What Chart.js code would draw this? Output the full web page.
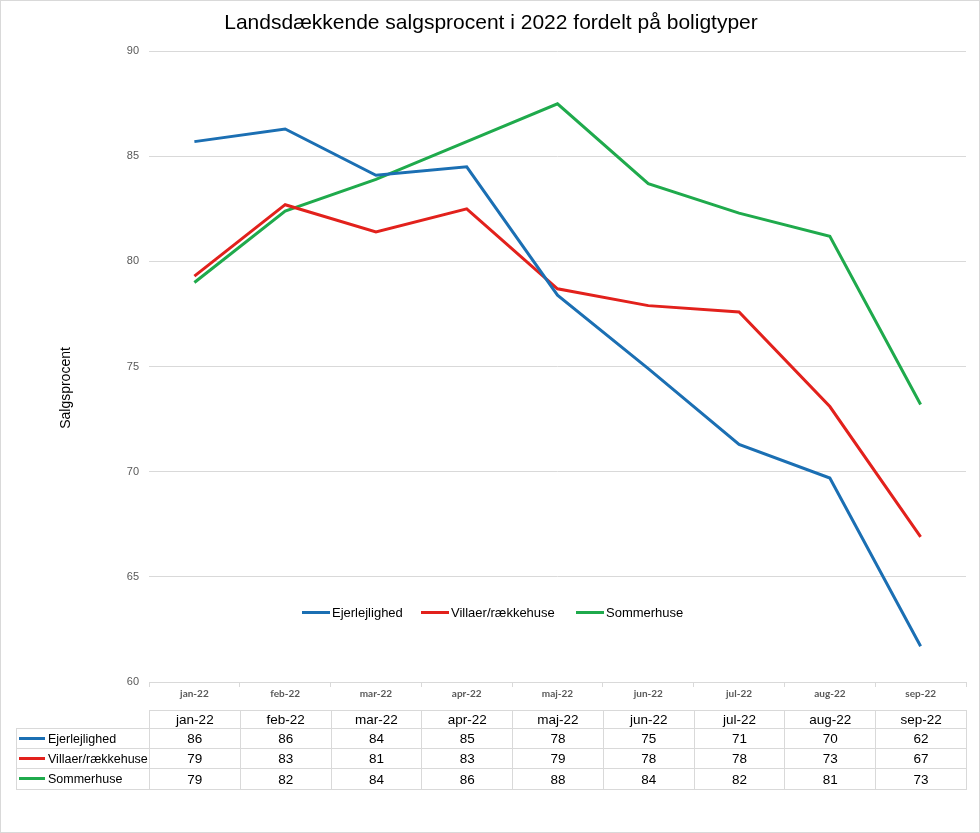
<!DOCTYPE html>
<html>
<head>
<meta charset="utf-8">
<script src="https://cdn.jsdelivr.net/npm/chart.js@4.4.1/dist/chart.umd.min.js"></script>
<style>
  html, body { margin: 0; padding: 0; background: #fff; }
  #frame { position: relative; width: 980px; height: 833px; box-sizing: border-box; border: 1px solid #d9d9d9; overflow: hidden; }
  #chartBox { position: absolute; left: 0; top: 0; width: 980px; height: 710px; }
  #legend { position: absolute; left: 0; top: 602px; width: 980px; height: 20px; font-family: "Liberation Sans", Arial, sans-serif; font-size: 13px; color: #000; }
  .lg { position: absolute; top: 0; height: 20px; line-height: 20px; white-space: nowrap; }
  .lg i { display: inline-block; width: 28px; height: 3px; vertical-align: middle; margin-right: 2px; position: relative; top: -1px; }
  #dtable { position: absolute; left: 15px; top: 709px; width: 951px; border-collapse: collapse; font-family: "Liberation Sans", Arial, sans-serif; font-size: 13.5px; font-weight: normal; color: #000; table-layout: fixed; }
  #dtable td { border: 1px solid #d9d9d9; padding: 0; text-align: center; overflow: hidden; white-space: nowrap; }
  #dtable td.lab { text-align: left; padding-left: 2px; font-size: 12.5px; }
  #dtable td.lab i { display: inline-block; width: 26px; height: 3px; vertical-align: middle; margin-right: 3px; position: relative; top: -1px; }
  #dtable td.blank { border-top: none; border-left: none; }
</style>
</head>
<body>
<div id="frame">
  <div id="chartBox"><canvas id="c"></canvas></div>
  <div id="legend"></div>
  <table id="dtable"></table>
</div>
<script>
// ---- data ----
const months = ['jan-22','feb-22','mar-22','apr-22','maj-22','jun-22','jul-22','aug-22','sep-22'];
const seriesNames = ['Ejerlejlighed','Villaer/rækkehuse','Sommerhuse'];
const ejerlejlighed = [85.7, 86.3, 84.1, 84.5, 78.4, 74.9, 71.3, 69.7, 61.7];
const villaer = [79.3, 82.7, 81.4, 82.5, 78.7, 77.9, 77.6, 73.1, 66.9];
const sommerhuse = [79.0, 82.4, 83.9, 85.7, 87.5, 83.7, 82.3, 81.2, 73.2];
// values shown in the data table
const tableEjerlejlighed = [86, 86, 84, 85, 78, 75, 71, 70, 62];
const tableVillaer = [79, 83, 81, 83, 79, 78, 78, 73, 67];
const tableSommerhuse = [79, 82, 84, 86, 88, 84, 82, 81, 73];
const yTicks = [60, 65, 70, 75, 80, 85, 90];

const colors = ['#1b6fb3', '#e2211c', '#1faa4c'];
const lineData = [ejerlejlighed, villaer, sommerhuse];
const tableData = [tableEjerlejlighed, tableVillaer, tableSommerhuse];

const font = '"Liberation Sans", Arial, sans-serif';

const chart = new Chart(document.getElementById('c'), {
  type: 'line',
  data: {
    labels: months,
    datasets: seriesNames.map((n, i) => ({
      label: n,
      data: lineData[i],
      borderColor: colors[i],
      backgroundColor: colors[i],
      borderWidth: 3,
      pointRadius: 0,
      pointHoverRadius: 0,
      tension: 0,
      fill: false
    }))
  },
  options: {
    responsive: true,
    maintainAspectRatio: false,
    animation: false,
    layout: { padding: { left: 15, right: 15, top: 0, bottom: 10 } },
    plugins: {
      legend: { display: false },
      tooltip: { enabled: false },
      title: {
        display: true,
        text: 'Landsdækkende salgsprocent i 2022 fordelt på boligtyper',
        color: '#000',
        font: { family: font, size: 21, weight: 'normal' },
        padding: { top: 10, bottom: 15 }
      }
    },
    scales: {
      x: {
        type: 'category',
        offset: true,
        grid: { display: true, offset: true, drawOnChartArea: false, drawTicks: true, tickLength: 5, color: '#d9d9d9' },
        border: { display: true, color: '#d9d9d9', width: 1 },
        ticks: { color: '#595959', font: { family: 'Lato, ' + font, size: 10, weight: 'bold' }, padding: 1, maxRotation: 0 }
      },
      y: {
        min: 60, max: 90,
        afterBuildTicks: (s) => { s.ticks = yTicks.map(v => ({ value: v })); },
        afterFit: (s) => { s.width = 133; },
        grid: { color: '#d9d9d9', drawTicks: false, lineWidth: 1 },
        border: { display: false },
        ticks: { color: '#595959', font: { family: font, size: 11 }, padding: 10 },
        title: {
          display: true,
          text: 'Salgsprocent' + '\u00a0'.repeat(11),
          color: '#000',
          font: { family: font, size: 14 },
          padding: { top: 42, bottom: 0 }
        }
      }
    }
  }
});

// legend (HTML, built from series arrays)
const legendPos = [301, 420, 575];
const lg = document.getElementById('legend');
seriesNames.forEach((n, i) => {
  const d = document.createElement('div');
  d.className = 'lg';
  d.style.left = legendPos[i] + 'px';
  d.innerHTML = '<i style="background:' + colors[i] + '"></i>' + n;
  lg.appendChild(d);
});

// data table
const tbl = document.getElementById('dtable');
const colW = (965 - 148) / months.length;
let html = '<colgroup><col style="width:133px">' + months.map(() => '<col style="width:' + colW + 'px">').join('') + '</colgroup>';
html += '<tr style="height:18px"><td class="blank"></td>' + months.map(m => '<td>' + m + '</td>').join('') + '</tr>';
const rowH = [20, 20, 21];
seriesNames.forEach((n, i) => {
  html += '<tr style="height:' + rowH[i] + 'px"><td class="lab"><i style="background:' + colors[i] + '"></i>' + n + '</td>' +
    tableData[i].map(v => '<td>' + v + '</td>').join('') + '</tr>';
});
tbl.innerHTML = html;
</script>
</body>
</html>
